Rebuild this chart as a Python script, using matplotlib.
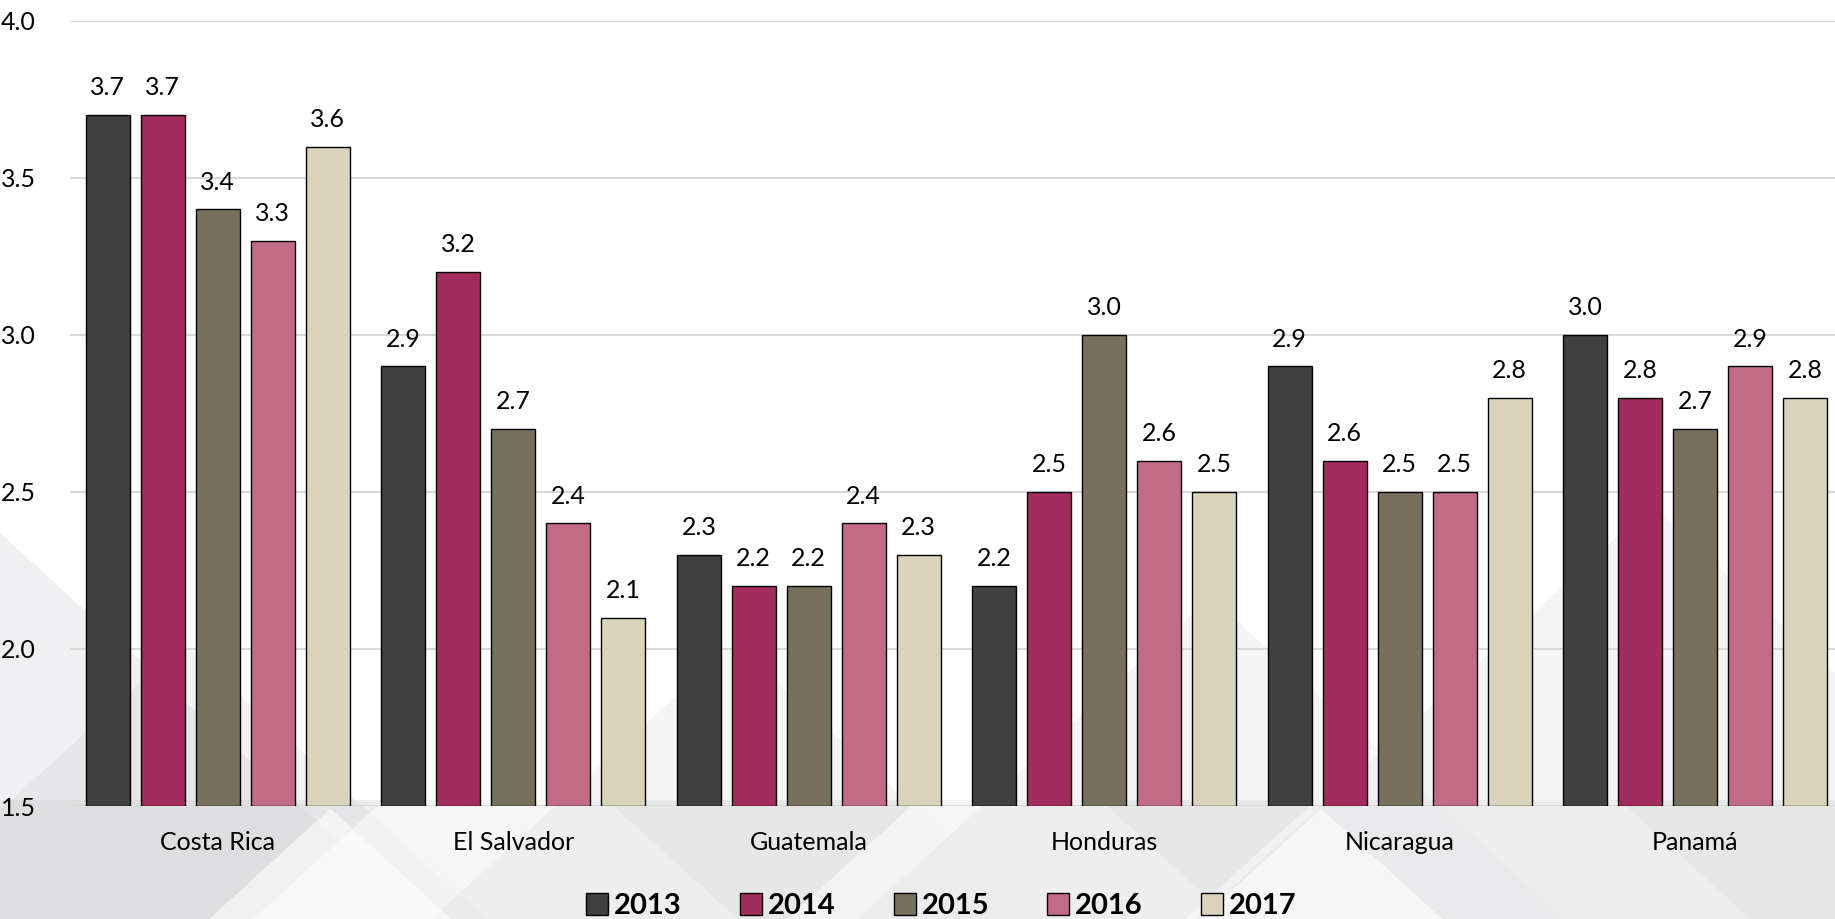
import matplotlib.pyplot as plt
import numpy as np
from matplotlib.patches import Polygon, Rectangle

plt.rcParams['font.family'] = ['Lato', 'DejaVu Sans']

paises = ['Costa Rica', 'El Salvador', 'Guatemala', 'Honduras', 'Nicaragua', 'Panamá']
anios = ['2013', '2014', '2015', '2016', '2017']
v2013 = [3.7, 2.9, 2.3, 2.2, 2.9, 3.0]
v2014 = [3.7, 3.2, 2.2, 2.5, 2.6, 2.8]
v2015 = [3.4, 2.7, 2.2, 3.0, 2.5, 2.7]
v2016 = [3.3, 2.4, 2.4, 2.6, 2.5, 2.9]
v2017 = [3.6, 2.1, 2.3, 2.5, 2.8, 2.8]
series = [v2013, v2014, v2015, v2016, v2017]
colores = ['#404040', '#A22C5E', '#77705C', '#C26A86', '#D8D3BA']

fig = plt.figure(figsize=(18.35, 9.19), dpi=100)

# fondo decorativo: franja gris abajo y triangulos tenues
fig.patches.append(Rectangle((0, 0), 1, 0.13, transform=fig.transFigure,
                             facecolor='#ededee', edgecolor='none', zorder=-2))
for cx, h, col, a in [(0.0, 0.42, '#d0d0d4', 0.3), (0.1, 0.3, '#d0d0d4', 0.25),
                      (0.27, 0.24, '#ffffff', 0.5), (0.4, 0.3, '#d0d0d4', 0.2),
                      (0.55, 0.22, '#ffffff', 0.5), (0.66, 0.35, '#d0d0d4', 0.2),
                      (0.8, 0.28, '#ffffff', 0.45), (0.9, 0.45, '#d0d0d4', 0.2),
                      (0.18, 0.12, '#ffffff', 0.6), (0.72, 0.12, '#ffffff', 0.6)]:
    fig.patches.append(Polygon([(cx - h * 0.55, 0), (cx, h), (cx + h * 0.55, 0)],
                               closed=True, transform=fig.transFigure,
                               facecolor=col, alpha=a, edgecolor='none', zorder=-1))

ax = fig.add_axes([70 / 1835, 1 - 806 / 919, 1 - 70 / 1835, (806 - 21) / 919])
ax.set_zorder(1)
ax.patch.set_alpha(0)

x = np.arange(len(paises))
paso = 0.186
ancho = 0.148
for i, (vals, col) in enumerate(zip(series, colores)):
    pos = x + (i - 2) * paso
    ax.bar(pos, np.array(vals) - 1.5, bottom=1.5, width=ancho, color=col,
           edgecolor='black', linewidth=1.0, label=anios[i], zorder=3)
    for p, v in zip(pos, vals):
        ax.text(p, v + 0.05, f'{v:.1f}', ha='center', va='bottom', fontsize=18, color='black')

ticks = [1.5, 2.0, 2.5, 3.0, 3.5, 4.0]
ax.set_ylim(1.5, 4.0)
ax.set_xlim(-0.5, 5.473)
ax.set_yticks(ticks)
ax.set_yticklabels([f'{t:.1f}' for t in ticks], fontsize=18)
ax.set_xticks(x)
ax.set_xticklabels(paises, fontsize=18)
ax.tick_params(axis='both', length=0)
ax.tick_params(axis='x', pad=18)
ax.tick_params(axis='y', pad=50)
for lbl in ax.get_yticklabels():
    lbl.set_horizontalalignment('left')
ax.yaxis.grid(True, color='#D9D9D9', linewidth=1.5, zorder=0)
for s in ax.spines.values():
    s.set_visible(False)

fig.legend(loc='center', bbox_to_anchor=(0.513, 0.014), ncol=5, frameon=False,
           prop={'weight': 'bold', 'size': 21}, handlelength=0.75, handleheight=0.75,
           handletextpad=0.2, columnspacing=2.0)

fig.savefig('out.png', dpi=100)
